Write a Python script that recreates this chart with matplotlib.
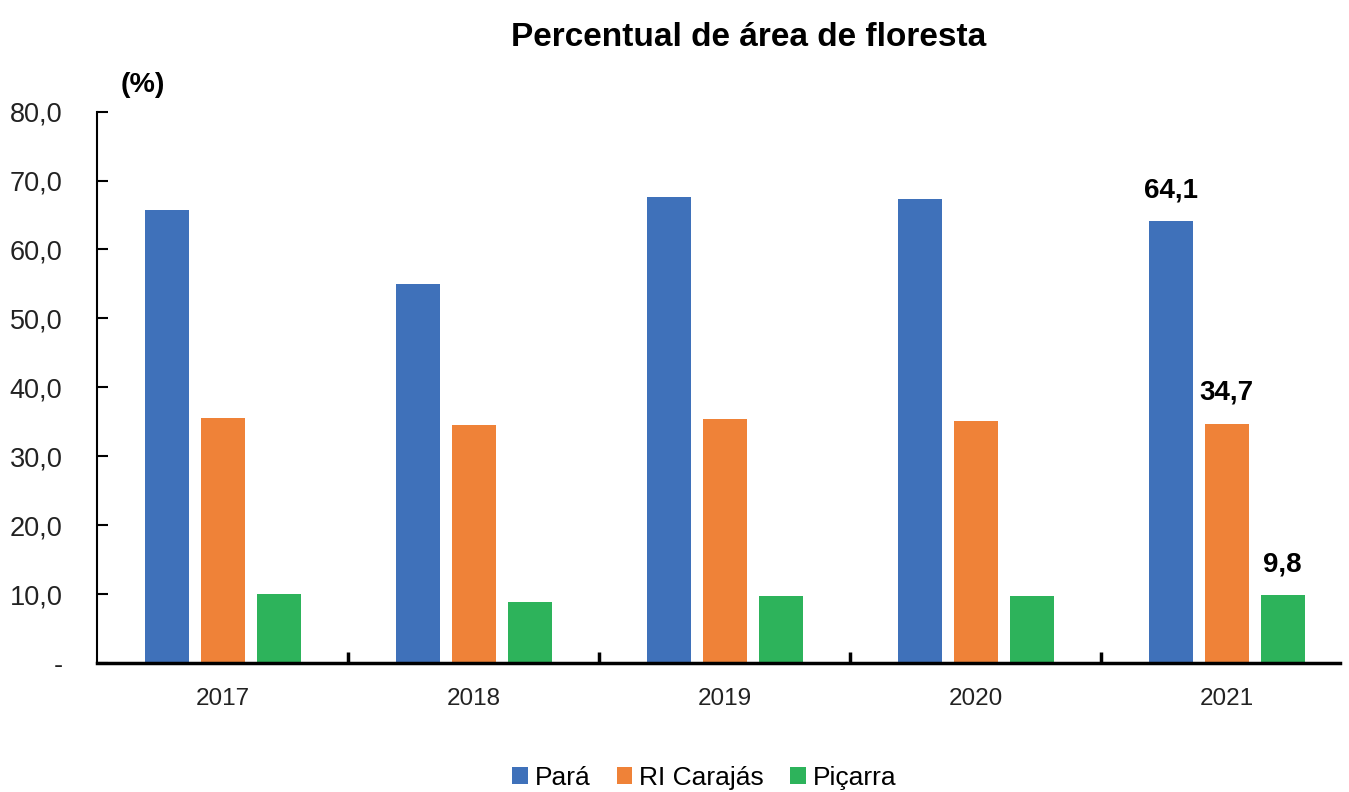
import matplotlib
matplotlib.use("Agg")
import matplotlib.pyplot as plt
import numpy as np
from matplotlib import font_manager as fm

years = ["2017", "2018", "2019", "2020", "2021"]
series_names = ["Pará", "RI Carajás", "Piçarra"]
para = [65.7, 55.0, 67.6, 67.3, 64.1]
carajas = [35.6, 34.5, 35.4, 35.1, 34.7]
picarra = [10.0, 8.8, 9.7, 9.7, 9.8]
colors = ["#3F71BA", "#EF8238", "#2DB35B"]
yticks = [0, 10, 20, 30, 40, 50, 60, 70, 80]
ytick_labels = ["-", "10,0", "20,0", "30,0", "40,0", "50,0", "60,0", "70,0", "80,0"]
labels_2021 = ["64,1", "34,7", "9,8"]

names = {f.name for f in fm.fontManager.ttflist}
narrow = "Liberation Sans Narrow" if "Liberation Sans Narrow" in names else "Liberation Sans"
plt.rcParams["font.family"] = ["Liberation Sans", "DejaVu Sans"]

fig = plt.figure(figsize=(13.49, 7.92), dpi=100)
ax = fig.add_axes([0.072, 0.163, 0.921, 0.696])

x = np.arange(len(years))
w = 0.175
off = 0.223
data = [para, carajas, picarra]
for i, (vals, c, n) in enumerate(zip(data, colors, series_names)):
    ax.bar(x + (i - 1) * off, vals, w, color=c, label=n, zorder=2)

# labels for 2021
for i, vals in enumerate(data):
    ax.text(x[-1] + (i - 1) * off, vals[-1] + 2.6, labels_2021[i], ha="center", va="bottom",
            fontsize=20, fontweight="bold", family=[narrow, "DejaVu Sans"])

ax.set_ylim(0, 80)
ax.set_xlim(-0.5, 4.45)
ax.set_yticks(yticks)
ax.set_yticklabels(ytick_labels, fontsize=19.5, color="#222222")
ax.set_xticks(x)
ax.set_xticklabels(years, fontsize=17.5, color="#222222")
ax.set_xticks([0.5, 1.5, 2.5, 3.5], minor=True)
ax.tick_params(axis="x", which="major", length=0, pad=18)
ax.tick_params(axis="x", which="minor", direction="in", length=8, width=2.5)
ax.tick_params(axis="y", direction="in", length=8, width=1.5, pad=25)
for s in ["top", "right"]:
    ax.spines[s].set_visible(False)
ax.spines["left"].set_linewidth(1.5)
ax.spines["bottom"].set_linewidth(2.5)

fig.text(0.555, 0.953, "Percentual de área de floresta", ha="center", va="center",
         fontsize=24, fontweight="bold", family=[narrow, "DejaVu Sans"])
fig.text(0.106, 0.893, "(%)", ha="center", va="center", fontsize=20.5, fontweight="bold",
         family=[narrow, "DejaVu Sans"])

fig.legend(loc="center", bbox_to_anchor=(0.522, 0.018), ncol=3, frameon=False,
           fontsize=19, handlelength=0.6, handleheight=0.6, handletextpad=0.25,
           columnspacing=1.0)

fig.savefig("out.png", dpi=100)
